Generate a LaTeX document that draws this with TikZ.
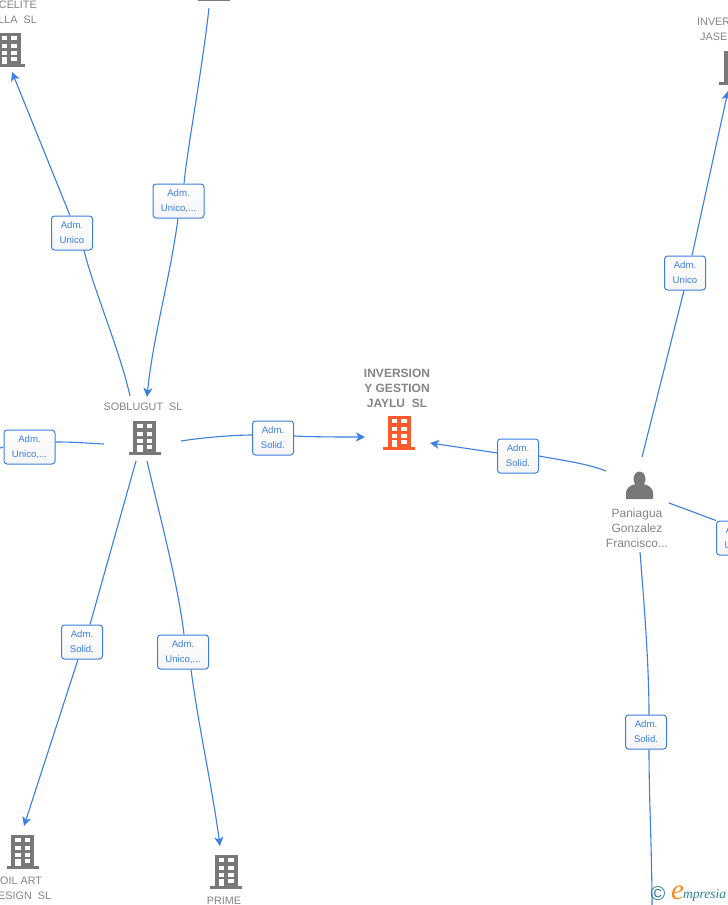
\documentclass[tikz,border=0pt]{standalone}
\usepackage{fontspec}
\setmainfont{Liberation Sans}
\newfontfamily\logofont{Liberation Serif}
\usetikzlibrary{arrows.meta}
\definecolor{linkblue}{HTML}{3B7FE0}
\definecolor{bldggray}{HTML}{787878}
\definecolor{mainred}{HTML}{FF5A2B}
\definecolor{labelgray}{HTML}{858585}
\definecolor{logoteal}{HTML}{2F7F8F}
\definecolor{logoorange}{HTML}{F58A1F}
\tikzset{
link/.style={draw=linkblue,line width=1.1pt},
tagbox/.style={draw=linkblue,line width=1pt,rounded corners=3pt,top color=white,bottom color=black!4,
  minimum width=41pt,minimum height=34pt,inner sep=0pt,align=center,text=linkblue,
  font=\fontsize{9.6}{15}\selectfont},
lbl/.style={text=labelgray,inner sep=0pt,align=center,font=\fontsize{10.8}{15}\selectfont},
pics/bldg/.style={code={
  \fill[#1] (-11.5,-34) rectangle (11.5,-1);
  \fill[#1] (-16,-3) rectangle (16,0);
  \foreach \yy in {-31,-23.5,-16.5,-10} {
    \fill[white] (-7.5,\yy) rectangle (-2,\yy+4);
    \fill[white] (2,\yy) rectangle (7.5,\yy+4);
  }
  \fill[white] (-7.5,-10) rectangle (-2,-3);
}}
}
\begin{document}
\begin{tikzpicture}[x=1pt,y=-1pt,>={Stealth[length=9pt,width=9pt,inset=2.5pt]},line join=round]
\clip (0,0) rectangle (728,905);
\fill[white] (0,0) rectangle (728,905);
% buildings
\pic at (144.5,455) {bldg=bldggray};
\pic at (399,450) {bldg=mainred};
\pic at (9,67) {bldg=bldggray};
\pic at (214,1) {bldg=bldggray};
\pic at (735,85) {bldg=bldggray};
\pic at (22.5,869) {bldg=bldggray};
\pic at (226,889) {bldg=bldggray};
% person
\fill[bldggray] (639.5,479) ellipse (6 and 7.5);
\fill[bldggray] (626,499) -- (626,492) .. controls +(1,-4) and +(-6,1) .. (636,484)
  -- (643,484) .. controls +(6,1) and +(-1,-4) .. (653,492) -- (653,499) -- cycle;
% names
\node[lbl] (soblugut) at (143,407) {SOBLUGUT\ \ SL};
\node[lbl,font=\fontsize{12}{15}\selectfont\bfseries] (jaylu) at (397,388) {INVERSION\\Y GESTION\\JAYLU\ \ SL};
\node[lbl,anchor=east,align=right] (celite) at (37,12.5) {CELITE\\LLA\ \ SL};
\node[lbl,anchor=west,align=left] (jase) at (697,29.5) {INVER\\\hspace*{3pt}JASE};
\node[lbl,anchor=west,align=left] (oilart) at (-2,888.5) {\hspace*{2pt}OIL ART\\ESIGN\ \ SL};
\node[lbl] (prime) at (224,900.5) {PRIME};
\node[lbl,font=\fontsize{12}{15}\selectfont] (paniagua) at (637,528) {Paniagua\\Gonzalez\\Francisco...};
% tags
\node[tagbox] (tagjaylu) at (273,438) {Adm.\\Solid.};
\node[tagbox] (tagpan) at (518,456) {Adm.\\Solid.};
\node[tagbox] (tagjase) at (685,273) {Adm.\\Unico};
\node[tagbox] (tagright) at (737,538) {Adm.\\Unico};
\node[tagbox] (tagdown) at (646,732) {Adm.\\Solid.};
\node[tagbox] (tagcelite) at (72,233) {Adm.\\Unico};
\node[tagbox,minimum width=51pt] (tagtop) at (178.5,201) {Adm.\\Unico,...};
\node[tagbox,minimum width=51pt] (tagleft) at (29.5,447) {Adm.\\Unico,...};
\node[tagbox] (tagoil) at (82,642) {Adm.\\Solid.};
\node[tagbox,minimum width=51pt] (tagprime) at (183,652) {Adm.\\Unico,...};
% free ends
\coordinate (sobE) at (181,441);
\coordinate (sobW) at (104,444);
\coordinate (sobN) at (130,396);
\coordinate (sobA) at (147,397);
\coordinate (sobSW) at (136,461);
\coordinate (sobSE) at (147,461);
\coordinate (jayluW) at (365,437);
\coordinate (jayluE) at (430,443);
\coordinate (panW) at (606,471);
\coordinate (panN) at (642,457);
\coordinate (panE) at (669,503);
\coordinate (panS) at (640,552);
\coordinate (jaseS) at (728,91);
\coordinate (celiteS) at (12,72);
\coordinate (topS) at (209,8);
\coordinate (leftW) at (0,448);
\coordinate (oilN) at (24,826);
\coordinate (primeN) at (220,846);
\coordinate (bottomS) at (652,905);
% connectors
\draw[link] (sobE) .. controls +(25,-4) and +(-15,0) .. ([yshift=3pt]tagjaylu.west);
\draw[link,->] ([yshift=2pt]tagjaylu.east) .. controls +(20,1) and +(-25,0) .. (jayluW);
\draw[link] (panW) .. controls +(-20,-8) and +(15,3) .. (tagpan.east);
\draw[link,->] (tagpan) -- (jayluE);
\draw[link] (panN) -- ([xshift=-1pt]tagjase.south);
\draw[link,->] ([xshift=7pt]tagjase.north) -- (jaseS);
\draw[link] (panE) -- (tagright.north west);
\draw[link] (panS) .. controls +(4,50) and +(0,-50) .. ([xshift=3pt]tagdown.north);
\draw[link] ([xshift=3pt]tagdown.south) .. controls +(0,50) and +(0,-50) .. (bottomS);
\draw[link] (sobN) .. controls +(-10,-45) and +(10,40) .. ([xshift=12pt]tagcelite.south);
\draw[link,->] ([xshift=-2pt]tagcelite.north) -- (celiteS);
\draw[link] (topS) .. controls +(-8,70) and +(4,-40) .. ([xshift=5.5pt]tagtop.north);
\draw[link,->] ([xshift=-0.5pt]tagtop.south) .. controls +(-8,60) and +(6,-60) .. (sobA);
\draw[link] (sobW) .. controls +(-20,-1) and +(20,0) .. ([yshift=5pt]tagleft.east);
\draw[link] (leftW) -- (tagleft.west);
\draw[link] (sobSW) -- ([xshift=8pt]tagoil.north);
\draw[link,->] ([xshift=-4pt]tagoil.south) -- (oilN);
\draw[link] (sobSE) .. controls +(14,60) and +(-6,-50) .. ([xshift=1pt]tagprime.north);
\draw[link,->] ([xshift=8pt]tagprime.south) .. controls +(8,60) and +(-8,-60) .. (primeN);
% logo
\node[inner sep=0pt,text=logoteal,font=\fontsize{20}{20}\selectfont] (copyr) at (658,894) {©};
\node[inner sep=0pt,anchor=base west,text=logoorange,font=\logofont\itshape\fontsize{29}{29}\selectfont] (logoe) at (671,899) {e};
\node[inner sep=0pt,anchor=base west,text=logoteal,font=\logofont\itshape\fontsize{13.5}{13.5}\selectfont] (logotxt) at (683,898) {mpresia};
\end{tikzpicture}
\end{document}
